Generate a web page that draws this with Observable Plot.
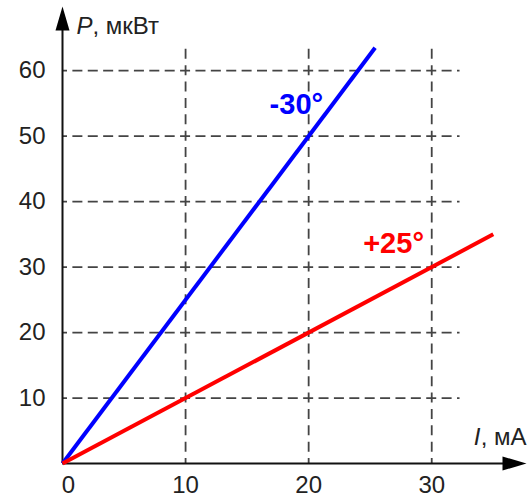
<!DOCTYPE html>
<html><head><meta charset="utf-8">
<script src="https://cdn.jsdelivr.net/npm/d3@7"></script>
<script src="https://cdn.jsdelivr.net/npm/@observablehq/plot@0.6"></script>
<style>body{margin:0;background:#fff}</style>
</head><body><div id="chart"></div>
<script>
// Data
const xTicks = [10, 20, 30];
const yTicks = [10, 20, 30, 40, 50, 60];
const seriesNames = ["-30°", "+25°"];
const seriesColors = ["#0000ff", "#ff0000"];
const currentBlue = [0, 25.4];
const powerBlue = [0, 63.5];
const currentRed = [0, 35];
const powerRed = [0, 35];
const labelCurrent = [19.0, 26.9];
const labelPower = [54.8, 33.6];

const W = 527, H = 497;
const ml = 62, mr = 1, mt = 6, mb = 34;
const xMax = 37.7, yMax = 69.8;
const xPx = (W - ml - mr) / xMax;
const yPx = (H - mt - mb) / yMax;
const gridRight = 32.3, gridTop = 63.7;

const lines = [
  ...currentBlue.map((c, i) => ({s: seriesNames[0], x: c, y: powerBlue[i]})),
  ...currentRed.map((c, i) => ({s: seriesNames[1], x: c, y: powerRed[i]}))
];
const labels = seriesNames.map((s, i) => ({s, x: labelCurrent[i], y: labelPower[i]}));

const hPeriod = xPx * 10 / 8, vPeriod = yPx * 10 / 4;
const font = "Liberation Sans, Arial, sans-serif";
const fs = 24;

const headSymbol = {
  draw(ctx) { ctx.moveTo(0, 0); ctx.lineTo(-7, 24); ctx.lineTo(7, 24); ctx.closePath(); }
};

const chart = Plot.plot({
  width: W, height: H,
  marginLeft: ml, marginRight: mr, marginTop: mt, marginBottom: mb,
  x: {domain: [0, xMax]},
  y: {domain: [0, yMax]},
  color: {domain: seriesNames, range: seriesColors},
  style: {fontFamily: font, background: "#fff"},
  marks: [
    Plot.ruleY(yTicks, {x1: 0, x2: gridRight, stroke: "#444", strokeWidth: 1.8,
      strokeDasharray: `10 ${hPeriod - 10}`, strokeDashoffset: 5}),
    Plot.ruleX(xTicks, {y1: 0, y2: gridTop, stroke: "#444", strokeWidth: 1.8,
      strokeDasharray: `10 ${vPeriod - 10}`, strokeDashoffset: 5}),
    Plot.ruleY([0], {x1: 0, x2: xMax - 1.5, stroke: "#111", strokeWidth: 2}),
    Plot.ruleX([0], {y1: 0, y2: yMax - 3, stroke: "#111", strokeWidth: 2}),
    Plot.dot([{x: 0, y: yMax}], {x: "x", y: "y", symbol: headSymbol, fill: "#000", stroke: null}),
    Plot.dot([{x: xMax, y: 0}], {x: "x", y: "y", symbol: headSymbol, fill: "#000", stroke: null, rotate: 90}),
    Plot.line(lines, {x: "x", y: "y", z: "s", stroke: "s", strokeWidth: 4, strokeLinecap: "butt"}),
    Plot.text(labels, {x: "x", y: "y", text: "s", fill: "s", fontSize: 29, fontWeight: "bold"}),
    Plot.axisX(xTicks, {tickSize: 0, tickPadding: 12, fontSize: fs, fill: "#222", label: null}),
    Plot.text([0], {x: d => d, y: 0, text: d => String(d), dx: 6, dy: 12 + fs * 0.71, lineAnchor: "bottom", fontSize: fs, fill: "#222"}),
    Plot.axisY(yTicks, {tickSize: 0, tickPadding: 17, fontSize: fs, fill: "#222", label: null}),
    Plot.text(["P"], {x: 0, y: yMax, text: d => d, dx: 14, dy: 27, lineAnchor: "bottom", fontSize: fs, fontStyle: "italic", textAnchor: "start", fill: "#222"}),
    Plot.text([", мкВт"], {x: 0, y: yMax, text: d => d, dx: 30, dy: 27, lineAnchor: "bottom", fontSize: fs, textAnchor: "start", fill: "#222"}),
    Plot.text(["I"], {x: xMax, y: 0, text: d => d, dx: -46, dy: -19, lineAnchor: "bottom", fontSize: fs, fontStyle: "italic", textAnchor: "end", fill: "#222"}),
    Plot.text([", мА"], {x: xMax, y: 0, text: d => d, dx: 0, dy: -19, lineAnchor: "bottom", fontSize: fs, textAnchor: "end", fill: "#222"})
  ]
});
document.getElementById("chart").append(chart);
</script>
</body></html>
